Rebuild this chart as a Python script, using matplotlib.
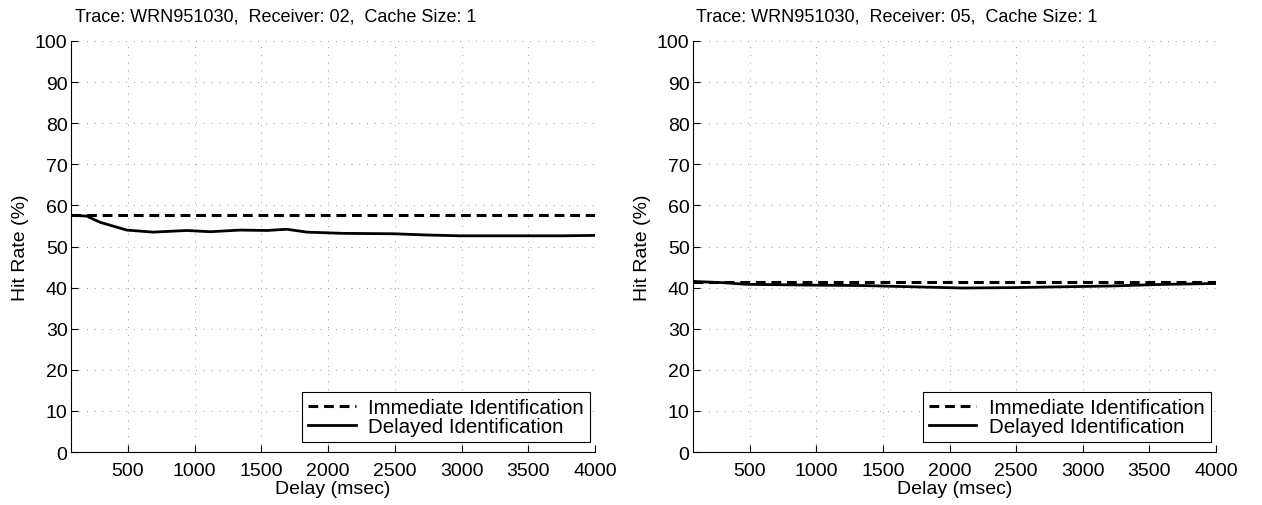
import matplotlib
matplotlib.use("Agg")
import matplotlib.pyplot as plt

plt.rcParams['font.family'] = ['Liberation Sans', 'DejaVu Sans']

titles = ["Trace: WRN951030,  Receiver: 02,  Cache Size: 1",
          "Trace: WRN951030,  Receiver: 05,  Cache Size: 1"]

x_ticks = [500, 1000, 1500, 2000, 2500, 3000, 3500, 4000]
y_ticks = [0, 10, 20, 30, 40, 50, 60, 70, 80, 90, 100]

# Receiver 02
imm_x_02 = [73, 4000]
imm_y_02 = [57.6, 57.6]
del_x_02 = [73, 191, 290, 490, 688, 940, 1115, 1340, 1540, 1690, 1840, 2112, 2490, 2740, 2990, 3740, 4000]
del_y_02 = [57.6, 57.4, 55.9, 54.0, 53.5, 53.9, 53.6, 54.0, 53.9, 54.2, 53.5, 53.2, 53.1, 52.8, 52.6, 52.6, 52.7]

# Receiver 05
imm_x_05 = [73, 4000]
imm_y_05 = [41.4, 41.4]
del_x_05 = [73, 300, 475, 975, 1350, 1720, 2100, 2470, 2850, 3220, 3620, 4000]
del_y_05 = [41.5, 41.2, 40.8, 40.6, 40.5, 40.2, 39.9, 40.0, 40.2, 40.4, 40.8, 41.0]

fig = plt.figure(figsize=(12.62, 5.06), dpi=100)
positions = [[0.0563, 0.1047, 0.4152, 0.8123], [0.5491, 0.1047, 0.4144, 0.8123]]
data = [(imm_x_02, imm_y_02, del_x_02, del_y_02), (imm_x_05, imm_y_05, del_x_05, del_y_05)]

for pos, title, (ix, iy, dx, dy) in zip(positions, titles, data):
    ax = fig.add_axes(pos)
    ax.plot(ix, iy, color='black', linestyle=(0, (3.2, 1.9)), linewidth=2.2, label='Immediate Identification')
    ax.plot(dx, dy, color='black', linestyle='-', linewidth=2.0, label='Delayed Identification')
    ax.set_xlim(73, 4000)
    ax.set_ylim(0, 100)
    ax.set_xticks(x_ticks)
    ax.set_yticks(y_ticks)
    ax.tick_params(direction='in', length=5, labelsize=14, width=0.8)
    ax.tick_params(axis='x', pad=7)
    ax.tick_params(axis='y', pad=2.5)
    ax.spines['top'].set_visible(False)
    ax.spines['right'].set_visible(False)
    ax.grid(True, color='#999999', linestyle=(0, (1, 7)), linewidth=0.7)
    ax.text(0.39, 1.049, title, transform=ax.transAxes, ha='center', va='baseline', fontsize=13)
    ax.set_xlabel('Delay (msec)', fontsize=14, labelpad=1)
    ax.set_ylabel('Hit Rate (%)', fontsize=14, labelpad=4)
    leg = ax.legend(loc='lower right', bbox_to_anchor=(0.99, 0.024), fontsize=14.8, frameon=True,
                    fancybox=False, edgecolor='black', framealpha=1, handlelength=2.3,
                    handletextpad=0.6, borderpad=0.3, labelspacing=0.0, borderaxespad=0)
    leg.get_frame().set_linewidth(0.8)

fig.savefig('out.png', dpi=100)
